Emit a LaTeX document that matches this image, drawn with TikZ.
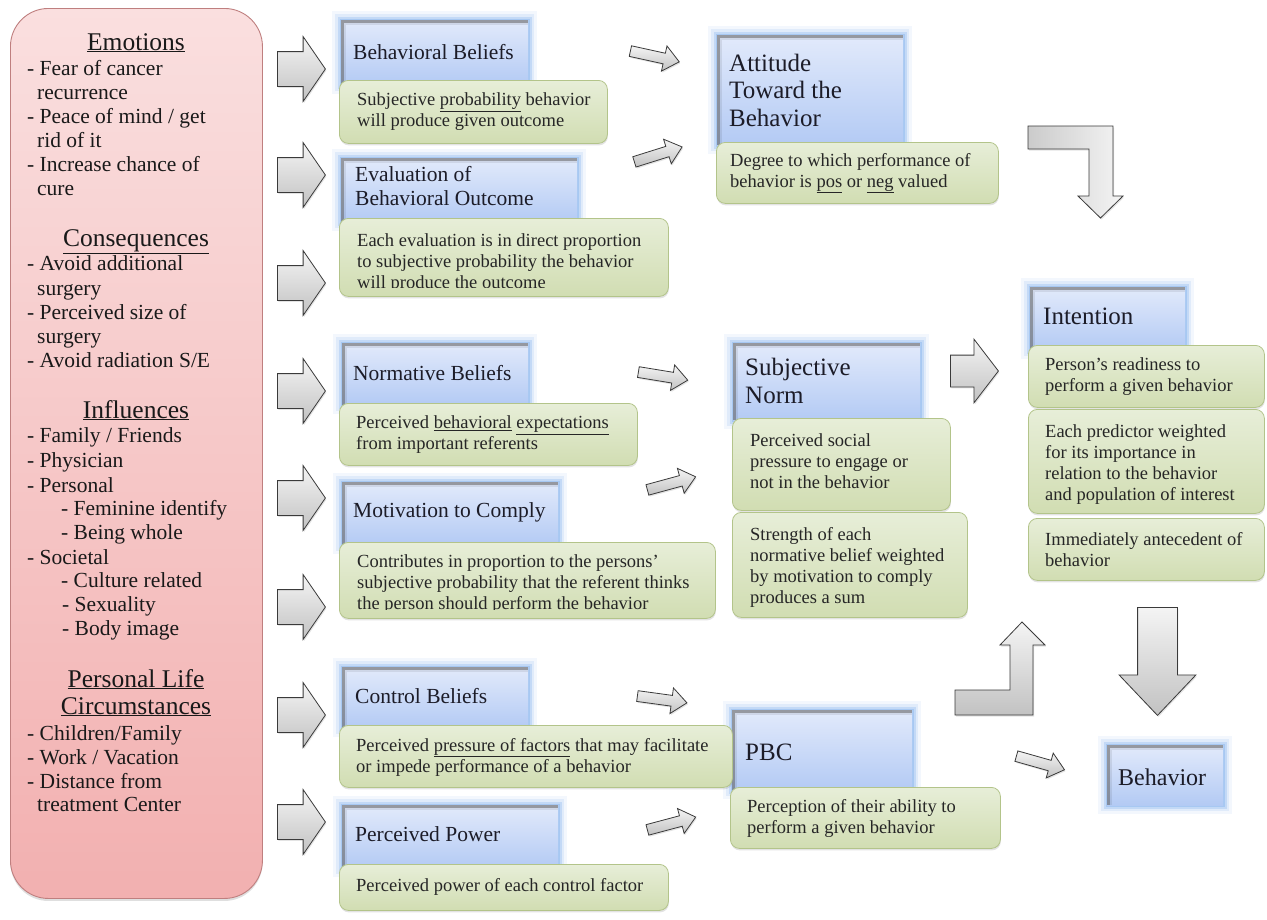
\documentclass[tikz,border=0pt]{standalone}
\usepackage{fontspec}
\setmainfont{Liberation Serif}
\usetikzlibrary{shapes.arrows,shadows}
\definecolor{bluetop}{HTML}{E2EAFB}
\definecolor{bluebot}{HTML}{B3CAF4}
\definecolor{glow}{HTML}{8DB8F0}
\definecolor{gtop}{HTML}{E7EED8}
\definecolor{gbot}{HTML}{D1DDB2}
\definecolor{gborder}{HTML}{B3C48A}
\definecolor{ptop}{HTML}{FADFDF}
\definecolor{pbot}{HTML}{F2B0B0}
\definecolor{pborder}{HTML}{BF7F7F}
\definecolor{ink}{HTML}{1C1C28}
\definecolor{atop}{HTML}{F4F4F4}
\definecolor{abot}{HTML}{C2C2C2}
\definecolor{aedge}{HTML}{3A3A3A}
\newcommand\ttlfont{\fontsize{21.5}{24}\selectfont}
\newcommand\bigttlfont{\fontsize{25}{27.5}\selectfont}
\newcommand\dscfont{\fontsize{18.5}{21}\selectfont}
\newcommand\pnlfont{\fontsize{21.5}{24}\selectfont}
\newcommand\pnlhead{\fontsize{25.5}{28}\selectfont}
\tikzset{
  panel/.style={rectangle, rounded corners=38pt, anchor=north west, draw=pborder, line width=.9pt,
    top color=ptop, bottom color=pbot, inner sep=0pt,
    drop shadow={opacity=.25, shadow xshift=0pt, shadow yshift=-2.5pt}},
  titlebox/.style={rectangle, anchor=north west, inner sep=0pt, top color=bluetop, bottom color=bluebot,
    preaction={draw=glow, line width=18pt, opacity=.10},
    preaction={draw=glow, line width=12pt, opacity=.18},
    preaction={draw=glow, line width=7pt, opacity=.35},
    preaction={draw=glow, line width=3pt, opacity=.5},
    path picture={
      \draw[line width=9pt, black, opacity=.08] (path picture bounding box.south west) -- (path picture bounding box.north west) -- (path picture bounding box.north east);
      \draw[line width=5pt, black!60, opacity=.55] (path picture bounding box.south west) -- (path picture bounding box.north west) -- (path picture bounding box.north east);
    }},
  greenbox/.style={rectangle, rounded corners=9pt, anchor=north west, inner sep=0pt, draw=gborder, line width=.8pt,
    top color=gtop, bottom color=gbot,
    drop shadow={opacity=.22, shadow xshift=0.5pt, shadow yshift=-2pt}},
  ttl/.style={inner sep=0pt, font=\ttlfont, text=ink, align=left, anchor=west},
  bigttl/.style={ttl, font=\bigttlfont},
  dsc/.style={inner sep=0pt, font=\dscfont, text=black!85, align=left, anchor=west},
  pnl/.style={inner sep=0pt, font=\pnlfont, text=black!90, anchor=base west},
  pnlh/.style={inner sep=0pt, font=\pnlhead, text=black!90, anchor=base},
  blk/.style={single arrow, draw=aedge, line width=.8pt, top color=atop, bottom color=abot, inner sep=0pt,
    single arrow head indent=0pt, anchor=tail, minimum width=0pt,
    drop shadow={opacity=.22, shadow xshift=1pt, shadow yshift=-1.5pt}},
  leftarr/.style={blk, minimum height=48pt, inner ysep=17pt, single arrow head extend=15pt, single arrow tip angle=111},
  midarr/.style={blk, minimum height=48pt, inner ysep=15.5pt, single arrow head extend=16pt, single arrow tip angle=105},
  downarr/.style={blk, minimum height=108pt, inner ysep=19.5pt, single arrow head extend=18.5pt, single arrow tip angle=87},
  smallarr/.style={blk, minimum height=50pt, inner ysep=5pt, single arrow head extend=7.5pt, single arrow tip angle=80},
  bentarr/.style={draw=aedge, line width=.8pt, line join=miter,
    drop shadow={opacity=.22, shadow xshift=1pt, shadow yshift=-1.5pt}},
}
\newcommand\tbox[5]{\node[titlebox, minimum width={#4-#2}, minimum height={#5-#3}] (#1) at (#2,#3) {};}
\newcommand\gbox[5]{\node[greenbox, minimum width={#4-#2}, minimum height={#5-#3}] (#1) at (#2,#3) {};}
\newcommand\pitem[4]{\node[pnl] (#1) at (#2,#3) {#4};}
\begin{document}
\begin{tikzpicture}[x=1pt,y=-1pt]
\useasboundingbox (0,0) rectangle (1267,919);
\fill[white] (0,0) rectangle (1267,919);

% ---------------- left panel ----------------
\node[panel, minimum width=252pt, minimum height=890pt] (panel) at (10,8) {};
\node[pnlh] (h1) at (136,50) {\underline{Emotions}};
\pitem{e1}{27}{75}{- Fear of cancer}
\pitem{e2}{37}{99}{recurrence}
\pitem{e3}{27}{123}{- Peace of mind / get}
\pitem{e4}{37}{147}{rid of it}
\pitem{e5}{27}{171}{- Increase chance of}
\pitem{e6}{37}{195}{cure}
\node[pnlh] (h2) at (136,246) {\underline{Consequences}};
\pitem{c1}{27}{270}{- Avoid additional}
\pitem{c2}{37}{295}{surgery}
\pitem{c3}{27}{319}{- Perceived size of}
\pitem{c4}{37}{343}{surgery}
\pitem{c5}{27}{367}{- Avoid radiation S/E}
\node[pnlh] (h3) at (136,418) {\underline{Influences}};
\pitem{i1}{27}{442}{- Family / Friends}
\pitem{i2}{27}{467}{- Physician}
\pitem{i3}{27}{492}{- Personal}
\pitem{i4}{61}{515}{- Feminine identify}
\pitem{i5}{61}{539}{- Being whole}
\pitem{i6}{27}{564}{- Societal}
\pitem{i7}{61}{587}{- Culture related}
\pitem{i8}{62}{611}{- Sexuality}
\pitem{i9}{62}{635}{- Body image}
\node[pnlh] (h4) at (136,687) {\underline{Personal Life}};
\node[pnlh] (h5) at (136,714) {\underline{Circumstances}};
\pitem{l1}{27}{740}{- Children/Family}
\pitem{l2}{27}{764}{- Work / Vacation}
\pitem{l3}{27}{788}{- Distance from}
\pitem{l4}{37}{811}{treatment Center}

% ---------------- left arrows ----------------
\node[leftarr] (la1) at (277,69) {};
\node[leftarr] (la2) at (277,175) {};
\node[leftarr] (la3) at (277,283) {};
\node[leftarr] (la4) at (277,391) {};
\node[leftarr] (la5) at (277,498) {};
\node[leftarr] (la6) at (277,607) {};
\node[leftarr] (la7) at (277,715) {};
\node[leftarr] (la8) at (277,822) {};

% ---------------- attitude column ----------------
\tbox{bb}{341}{20}{528}{85}
\gbox{gbb}{339}{80}{607}{143}
\node[ttl] (bbt) at (353,52) {Behavioral Beliefs};
\node[dsc] (gbbt) at (357,112) {Subjective \underline{probability} behavior\\will produce given outcome};

\tbox{eo}{341}{158}{577}{222}
\gbox{geo}{339}{218}{668}{296}
\node[ttl] (eot) at (355,186) {Evaluation of\\Behavioral Outcome};
\begin{scope}
\clip (geo.north west) rectangle ([yshift=9pt]geo.south east);
\node[dsc] (geot) at (357,263) {Each evaluation is in direct proportion\\to subjective probability the behavior\\will produce the outcome};
\end{scope}

\tbox{atb}{717}{35}{903}{145}
\gbox{gatb}{716}{142}{998}{203}
\node[bigttl] (atbt) at (729,90) {Attitude\\Toward the\\Behavior};
\node[dsc] (gatbt) at (730,173) {Degree to which performance of\\behavior is \underline{pos} or \underline{neg} valued};

% ---------------- intention column ----------------
\tbox{int}{1030}{287}{1185}{350}
\gbox{gint1}{1028}{345}{1264}{407}
\gbox{gint2}{1028}{409}{1264}{513}
\gbox{gint3}{1028}{518}{1264}{580}
\node[bigttl] (intt) at (1043,316) {Intention};
\node[dsc] (gint1t) at (1045,376.5) {Person’s readiness to\\perform a given behavior};
\node[dsc] (gint2t) at (1045,464.5) {Each predictor weighted\\for its importance in\\relation to the behavior\\and population of interest};
\node[dsc] (gint3t) at (1045,549.5) {Immediately antecedent of\\behavior};

% ---------------- normative column ----------------
\tbox{nb}{342}{343}{528}{405}
\gbox{gnb}{339}{403}{637}{465}
\node[ttl] (nbt) at (353,373) {Normative Beliefs};
\node[dsc] (gnbt) at (356,434.5) {Perceived \underline{behavioral} \underline{expectations}\\from important referents};

\tbox{mc}{342}{482}{558}{545}
\gbox{gmc}{339}{542}{715}{618}
\node[ttl] (mct) at (353,512) {Motivation to Comply};
\begin{scope}
\clip (gmc.north west) rectangle ([yshift=9pt]gmc.south east);
\node[dsc] (gmct) at (357,584) {Contributes in proportion to the persons’\\subjective probability that the referent thinks\\the person should perform the behavior};
\end{scope}

\tbox{sn}{733}{343}{920}{420}
\gbox{gsn1}{732}{418}{950}{510}
\gbox{gsn2}{732}{512}{967}{617}
\node[bigttl] (snt) at (745,381) {Subjective\\Norm};
\node[dsc] (gsn1t) at (750,461) {Perceived social\\pressure to engage or\\not in the behavior};
\node[dsc] (gsn2t) at (750,567) {Strength of each\\normative belief weighted\\by motivation to comply\\produces a sum};

% ---------------- control column ----------------
\tbox{pbc}{732}{710}{912}{790}
\gbox{gpbc}{730}{787}{1000}{848}
\node[bigttl] (pbct) at (745,752) {PBC};
\node[dsc] (gpbct) at (747,818.5) {Perception of their ability to\\perform a given behavior};

\tbox{cb}{342}{667}{528}{728}
\gbox{gcb}{339}{725}{732}{787}
\node[ttl] (cbt) at (355,696) {Control Beliefs};
\node[dsc] (gcbt) at (356,757) {Perceived \underline{pressure of factors} that may facilitate\\or impede performance of a behavior};

\tbox{pp}{342}{805}{558}{868}
\gbox{gpp}{339}{864}{668}{910}
\node[ttl] (ppt) at (355,834) {Perceived Power};
\node[dsc] (gppt) at (356,887) {Perceived power of each control factor};

\tbox{beh}{1107}{745}{1223}{805}
\node[ttl, font=\fontsize{24}{27}\selectfont] (beht) at (1118,777) {Behavior};

% ---------------- small arrows ----------------
\node[smallarr, rotate=-12.4] (a1) at (630,51) {};
\node[smallarr, rotate=17.4] (a2) at (634,162) {};
\node[smallarr, rotate=-9.3] (a3) at (638,372) {};
\node[smallarr, rotate=15.2] (a4) at (647,490) {};
\node[smallarr, rotate=-7.8] (a5) at (637,696) {};
\node[smallarr, rotate=14.9] (a6) at (647,830) {};
\node[smallarr, rotate=-15.8] (a7) at (1016,756) {};

% ---------------- big arrows ----------------
\node[midarr] (snint) at (950,371) {};
\node[downarr, rotate=-90] (intbeh) at (1157.5,607) {};
\path[bentarr, left color=abot!85, right color=atop] (1028,126) -- (1113,126) -- (1113,196) -- (1123,196) -- (1100.5,218) -- (1078,196) -- (1089,196) -- (1089,149) -- (1028,149) -- cycle;
\path[bentarr, top color=atop, bottom color=abot] (955,690) -- (1010,690) -- (1010,645) -- (1000,645) -- (1022,622) -- (1045,645) -- (1033,645) -- (1033,715) -- (955,715) -- cycle;
\end{tikzpicture}
\end{document}
